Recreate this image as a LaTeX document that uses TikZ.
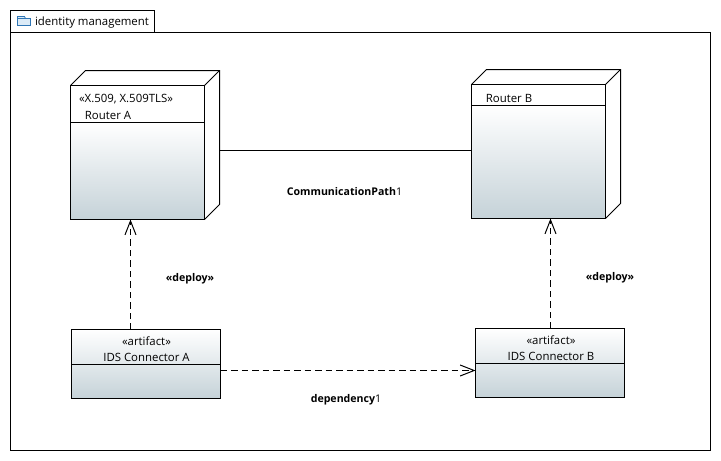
\documentclass[tikz,border=0pt]{standalone}
\usepackage{fontspec}
\setmainfont{Open Sans}
\usetikzlibrary{arrows.meta}
\definecolor{shadeend}{HTML}{C5D2D8}
\definecolor{folderblue}{HTML}{2F76B5}
\definecolor{folderfill}{HTML}{DCEBF7}
\tikzset{
  x=1pt, y=-1pt,
  every node/.style={font=\fontsize{11.4}{12}\selectfont, inner sep=0pt, outer sep=0pt},
  boldlabel/.style={font=\fontsize{10.6}{12}\selectfont},
  line/.style={line width=1pt, black},
  box/.style={draw, line width=1pt, rectangle},
  shadedbox/.style={box, top color=white, bottom color=shadeend},
  deploy/.style={line, dash pattern=on 6.5pt off 4pt, -{Straight Barb[length=14pt,width=11pt,line width=1pt]}}
}

\begin{document}
\begin{tikzpicture}
\useasboundingbox (0,0) rectangle (721,461);
% package frame
\node[box, minimum width=700pt, minimum height=418pt] (pkg) at (360.5,241.5) {};
\node[box, fill=white, minimum width=144pt, minimum height=22pt] (pkgtab) at (82.5,21.5) {};
\draw[folderblue, fill=folderfill, line width=.8pt] (17.5,25.5) -- (17.5,16.5) -- (24.5,16.5) -- (25.5,18.5) -- (30.5,18.5) -- (30.5,25.5) -- cycle;
\draw[folderblue, line width=.8pt] (17.5,18.5) -- (25.5,18.5);
\node (pkglabel) at (92,22.5) {identity management};
% router A
\node[box, minimum width=134pt, minimum height=134pt] (routerA) at (137.5,152.5) {};
\node[shadedbox, minimum width=134pt, minimum height=97pt, anchor=south] (routerAbody) at (routerA.south) {};
\draw[line] (routerA.north west) -- ++(15,-15) -- ++(134,0) -- ++(0,134) -- (routerA.south east);
\draw[line] (routerA.north east) -- ++(15,-15);
\coordinate (routerAside) at (219.5,150.5);
\node (routerAstereo) at (126,99.5) {«X.509, X.509TLS»};
\node (routerAname) at (108,115.5) {Router A};
% router B
\node[box, minimum width=134pt, minimum height=134pt] (routerB) at (538.5,151.5) {};
\node[shadedbox, minimum width=134pt, minimum height=113pt, anchor=south] (routerBbody) at (routerB.south) {};
\draw[line] (routerB.north west) -- ++(15,-15) -- ++(134,0) -- ++(0,134) -- (routerB.south east);
\draw[line] (routerB.north east) -- ++(15,-15);
\node (routerBname) at (509,98.5) {Router B};
% artifacts
\node[shadedbox, minimum width=149pt, minimum height=69pt] (connA) at (146,364) {};
\draw[line] ([yshift=-.5pt]connA.west) -- ([yshift=-.5pt]connA.east);
\node (connAstereo) at (146.5,341.5) {«artifact»};
\node (connAname) at (146.5,357.5) {IDS Connector A};
\node[shadedbox, minimum width=149pt, minimum height=69pt] (connB) at (550,363) {};
\draw[line] ([yshift=-.5pt]connB.west) -- ([yshift=-.5pt]connB.east);
\node (connBstereo) at (551,340.5) {«artifact»};
\node (connBname) at (551,356.5) {IDS Connector B};
% connectors
\draw[line] (routerAside) -- (routerB.west |- routerAside);
\draw[deploy] ([xshift=-15.5pt]connA.north) -- ([xshift=-7pt]routerA.south);
\draw[deploy] ([xshift=.5pt]connB.north) -- ([xshift=12pt]routerB.south);
\draw[deploy] ([yshift=-6.5pt]connA.east) -- ([yshift=-7.5pt]connB.west);
% labels
\node[boldlabel] (pathlabel) at (344.5,192) {\textbf{CommunicationPath}1};
\node[boldlabel] (deployA) at (190,279) {\textbf{«deploy»}};
\node[boldlabel] (deployB) at (610,278) {\textbf{«deploy»}};
\node[boldlabel] (deplabel) at (346,400) {\textbf{dependency}1};
\end{tikzpicture}
\end{document}
